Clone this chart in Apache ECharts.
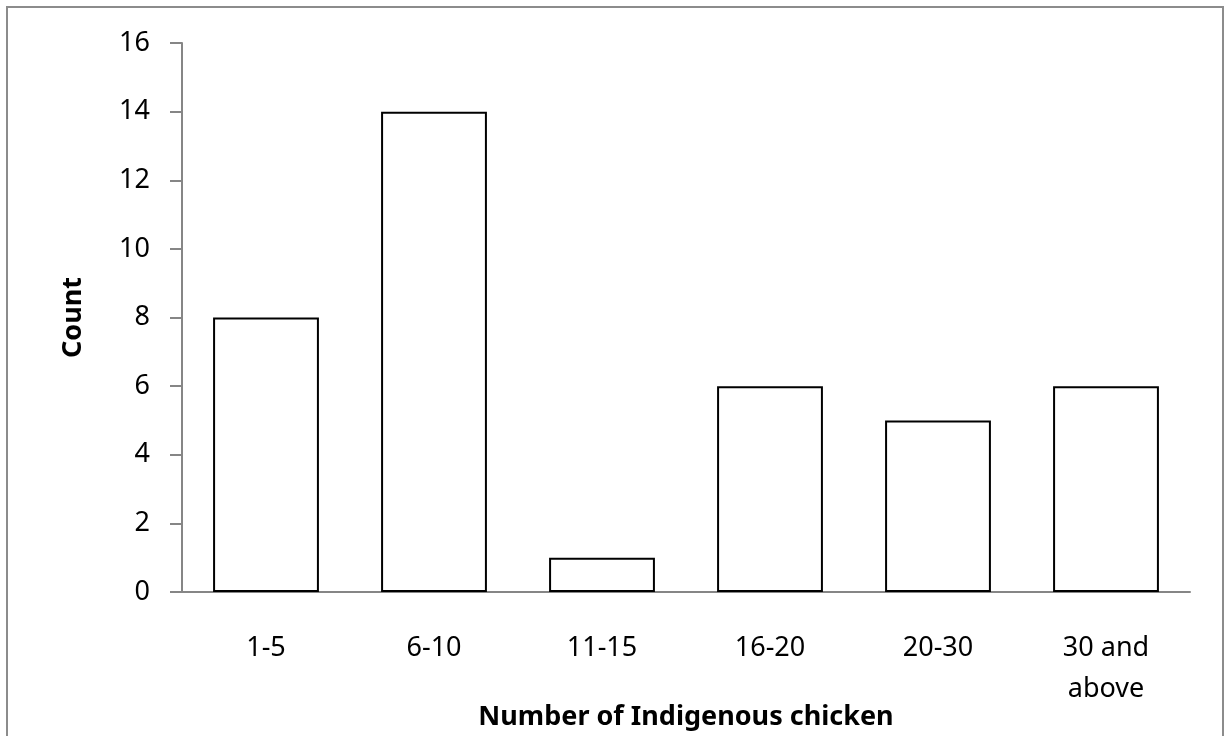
<!DOCTYPE html>
<html>
<head>
<meta charset="utf-8">
<script src="https://cdn.jsdelivr.net/npm/echarts@6/dist/echarts.min.js"></script>
<style>
  html, body { margin: 0; padding: 0; background: #fff; }
  #chart { width: 1225px; height: 736px; }
</style>
</head>
<body>
<div id="chart"></div>
<script>
// data
const categories = ['1-5', '6-10', '11-15', '16-20', '20-30', '30 and\nabove']
const counts = [8, 14, 1, 6, 5, 6]
const yTicks = { min: 0, max: 16, interval: 2 }

const font = 'Noto Sans'
const axisGray = '#868686'

const chart = echarts.init(document.getElementById('chart'))

chart.setOption({
  animation: false,
  backgroundColor: '#fff',
  graphic: [
    {
      type: 'rect',
      shape: { x: 7, y: 7, width: 1216, height: 740 },
      style: { fill: 'none', stroke: '#8c8c8c', lineWidth: 2 },
      silent: true
    }
  ],
  grid: {
    left: 182,
    right: 35,
    top: 43,
    bottom: 144,
    outerBoundsMode: 'none'
  },
  xAxis: {
    type: 'category',
    data: categories,
    name: 'Number of Indigenous chicken',
    nameLocation: 'middle',
    nameGap: 112,
    nameMoveOverlap: false,
    nameTextStyle: { fontFamily: font, fontSize: 27, fontWeight: 'bold', color: '#000' },
    axisLine: { lineStyle: { color: axisGray, width: 2 } },
    axisTick: { show: false },
    axisLabel: {
      fontFamily: font,
      fontSize: 27,
      color: '#000',
      margin: 36,
      lineHeight: 41
    }
  },
  yAxis: {
    type: 'value',
    min: yTicks.min,
    max: yTicks.max,
    interval: yTicks.interval,
    name: 'Count',
    nameLocation: 'middle',
    nameGap: 95,
    nameMoveOverlap: false,
    nameTextStyle: { fontFamily: font, fontSize: 27, fontWeight: 'bold', color: '#000' },
    axisLine: { show: true, lineStyle: { color: axisGray, width: 2 } },
    axisTick: { show: true, length: 12, lineStyle: { color: axisGray, width: 2 } },
    splitLine: { show: false },
    axisLabel: {
      fontFamily: font,
      fontSize: 27,
      color: '#000',
      margin: 32
    }
  },
  series: [
    {
      type: 'bar',
      data: counts,
      barWidth: '63%',
      itemStyle: {
        color: '#fff',
        borderColor: '#000',
        borderWidth: 2
      }
    }
  ]
})
</script>
</body>
</html>
